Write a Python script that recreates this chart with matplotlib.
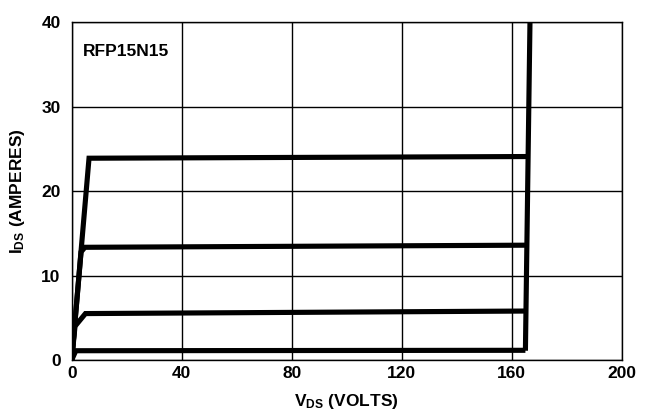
import matplotlib
matplotlib.use("Agg")
import matplotlib.pyplot as plt

plt.rcParams['font.family'] = ['Liberation Sans', 'DejaVu Sans']
plt.rcParams['font.weight'] = 'bold'
plt.rcParams['mathtext.fontset'] = 'custom'
plt.rcParams['mathtext.rm'] = 'Liberation Sans:bold'
plt.rcParams['mathtext.bf'] = 'Liberation Sans:bold'
plt.rcParams['mathtext.it'] = 'Liberation Sans:bold'

# ---- data ----
curve_24a_v = [0, 6.3, 165.9]
curve_24a_i = [0, 23.9, 24.1]

curve_13a_v = [0, 3.4, 4.8, 165.6]
curve_13a_i = [0, 12.8, 13.35, 13.6]

curve_5a_v = [0, 1.2, 5.0, 165.3]
curve_5a_i = [0, 4.0, 5.5, 5.8]

curve_1a_v = [0, 1.5, 165.0]
curve_1a_i = [0, 1.1, 1.15]

breakdown_v = [165.0, 166.7]
breakdown_i = [1.1, 41.0]

x_ticks = [0, 40, 80, 120, 160, 200]
y_ticks = [0, 10, 20, 30, 40]

fig = plt.figure(figsize=(6.53, 4.15), dpi=100)
ax = fig.add_axes([0.1098, 0.1325, 0.8422, 0.8138])

lw = 3.7
for v, i in [(curve_24a_v, curve_24a_i), (curve_13a_v, curve_13a_i),
             (curve_5a_v, curve_5a_i), (curve_1a_v, curve_1a_i),
             (breakdown_v, breakdown_i)]:
    ax.plot(v, i, color='black', lw=lw, solid_joinstyle='miter',
            solid_capstyle='butt', zorder=3)

ax.set_xlim(0, 200)
ax.set_ylim(0, 40)
ax.set_xticks(x_ticks)
ax.set_yticks(y_ticks)
ax.grid(True, color='black', lw=1.0)
ax.tick_params(length=0, labelsize=12.5)
ax.tick_params(axis='y', pad=8)
ax.tick_params(axis='x', pad=4)
for sp in ax.spines.values():
    sp.set_linewidth(1.0)

ax.set_xlabel(r'$\mathbf{V_{DS}}$ (VOLTS)', fontsize=12.5, fontweight='bold', labelpad=8)
ax.set_ylabel(r'$\mathbf{I_{DS}}$ (AMPERES)', fontsize=12.5, fontweight='bold', labelpad=10)

ax.text(0.02, 0.935, 'RFP15N15', transform=ax.transAxes, fontsize=12.5,
        fontweight='bold', va='top', ha='left')

fig.savefig('out.png', dpi=100)
